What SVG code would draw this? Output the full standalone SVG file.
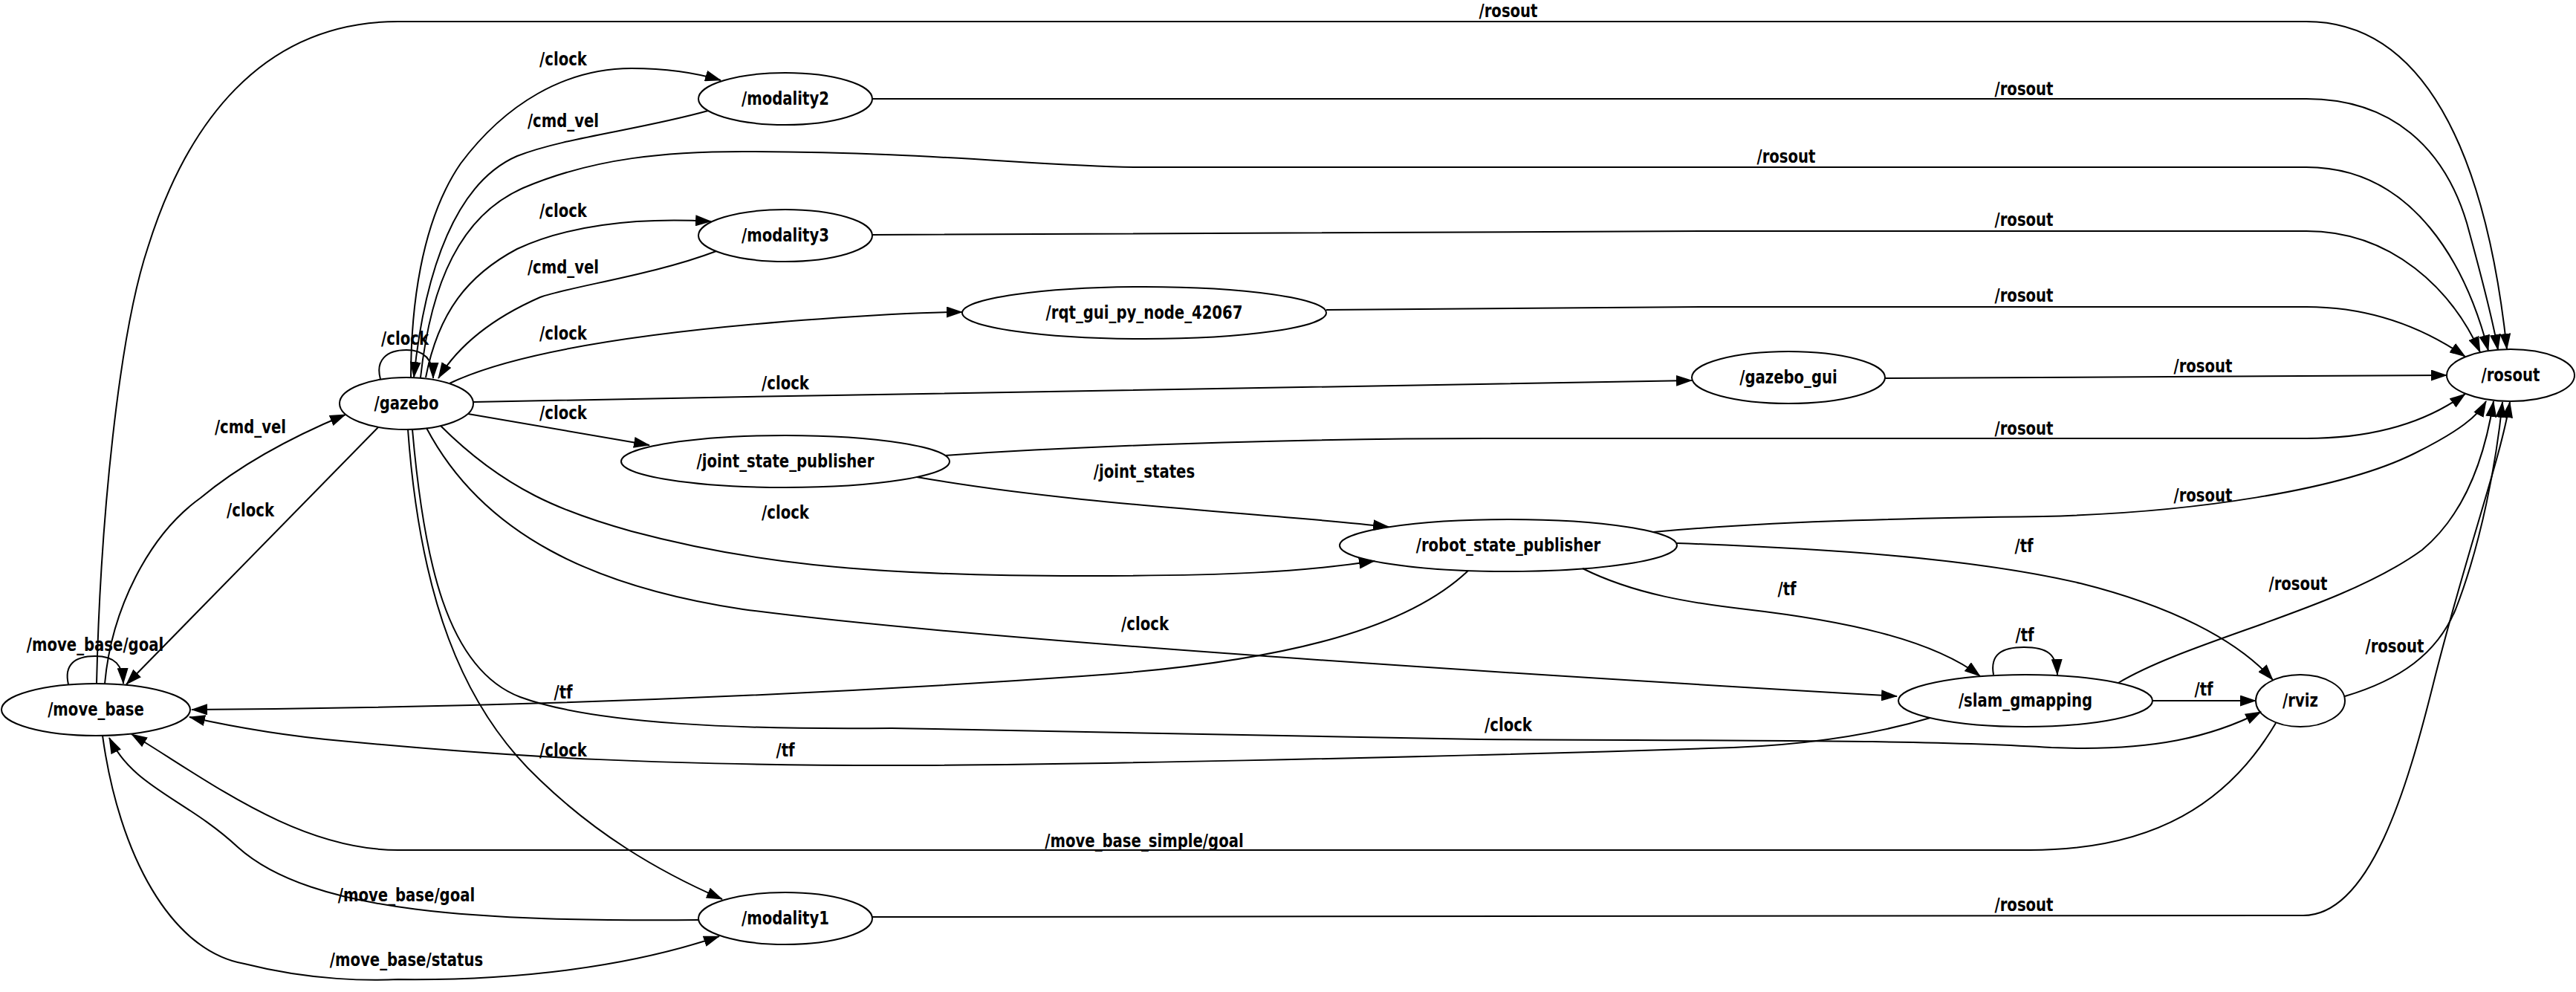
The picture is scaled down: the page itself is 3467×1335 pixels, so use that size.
<svg xmlns="http://www.w3.org/2000/svg" width="3467" height="1335" viewBox="0 0 3467 1335">
<style>
.bg{fill:#ffffff}
.n{fill:none;stroke:#000;stroke-width:2}
.e{fill:none;stroke:#000;stroke-width:2;marker-end:url(#ah)}
.t{font-family:"DejaVu Sans","Liberation Sans",sans-serif;font-weight:bold;font-size:24px;text-anchor:middle;fill:#000;transform:scaleX(0.82);transform-box:fill-box;transform-origin:center}
</style>
<defs>
<marker id="ah" markerUnits="userSpaceOnUse" markerWidth="22" markerHeight="15" refX="21" refY="7.5" orient="auto">
<path d="M0,0 L22,7.5 L0,15 Z" fill="#000"/>
</marker>
</defs>
<rect class="bg" x="0" y="0" width="3467" height="1335"/>
<g id="edges">
<path class="e" d="M130,920 C135,700 160,450 199,333 C250,170 350,29 536,29 L3104,29 C3260,29 3345,200 3374,470"/>
<path class="e" d="M1174,133 L3104,133 C3220,133 3290,200 3320,300 C3342,380 3355,430 3362,471"/>
<path class="e" d="M566,508 C580,380 620,290 704,253 C800,212 900,204 1000,204 C1250,204 1400,224 1533,225 L3104,225 C3250,225 3320,360 3349,472"/>
<path class="e" d="M1174,316 C1600,312 2000,311 2300,311 L3104,311 C3220,311 3300,390 3338,474"/>
<path class="e" d="M1785,417 C2000,415 2200,413 2300,413 L3104,413 C3190,413 3260,440 3318,480"/>
<path class="e" d="M2537,509 L3293,505"/>
<path class="e" d="M1272,613 C1500,597 1800,590 2000,590 L3104,590 C3200,590 3270,565 3318,530"/>
<path class="e" d="M2225,716 C2400,700 2600,697 2750,695 C2950,690 3150,660 3250,610 C3310,580 3335,560 3346,540"/>
<path class="e" d="M2851,919 C2950,860 3150,820 3260,740 C3320,690 3345,610 3356,540"/>
<path class="e" d="M3156,937 C3230,915 3280,880 3305,820 C3340,730 3360,620 3368,541"/>
<path class="e" d="M1174,1234 L3100,1232 C3190,1232 3240,1060 3275,920 C3320,740 3365,620 3378,541"/>
<path class="e" d="M553,508 C553,420 565,300 620,220 C680,140 760,92 850,92 C900,92 940,99 970,108"/>
<path class="e" d="M953,149 C860,175 760,185 696,210 C615,245 572,360 557,508"/>
<path class="e" d="M573,508 C590,420 630,370 696,335 C760,305 850,292 957,298"/>
<path class="e" d="M964,338 C880,370 770,385 727,400 C670,425 620,460 590,509"/>
<path class="e" d="M512,510 C505,485 520,471 547,471 C572,471 583,485 583,509"/>
<path class="e" d="M605,516 C700,470 900,440 1200,423 C1240,421 1270,420 1295,420"/>
<path class="e" d="M637,541 C1200,530 1800,520 2277,512"/>
<path class="e" d="M630,557 L874,599"/>
<path class="e" d="M593,573 C680,660 760,690 850,715 C1000,755 1150,775 1456,775 C1650,775 1750,770 1850,755"/>
<path class="e" d="M574,576 C650,720 800,790 1000,820 C1300,860 2000,905 2553,937"/>
<path class="e" d="M555,578 C570,750 600,900 700,938 C800,975 1000,982 1200,980 C1500,986 1800,993 1992,995 C2300,997 2600,995 2761,1006 C2900,1012 2980,990 3043,958"/>
<path class="e" d="M549,578 C565,800 620,950 727,1050 C800,1120 880,1170 972,1210"/>
<path class="e" d="M509,575 L170,921"/>
<path class="e" d="M141,920 C150,820 200,720 270,670 C330,620 400,585 465,558"/>
<path class="e" d="M92,921 C86,895 100,883 128,883 C155,883 165,895 166,920"/>
<path class="e" d="M1234,642 C1450,680 1700,690 1869,709"/>
<path class="e" d="M1976,768 C1900,840 1750,890 1456,910 C1100,935 700,952 258,955"/>
<path class="e" d="M2130,765 C2200,800 2280,812 2350,820 C2480,835 2600,860 2665,910"/>
<path class="e" d="M2257,731 C2450,738 2650,750 2800,785 C2920,815 3010,860 3059,915"/>
<path class="e" d="M2683,908 C2678,880 2695,871 2724,871 C2755,871 2768,880 2769,908"/>
<path class="e" d="M2897,943 L3036,943"/>
<path class="e" d="M2598,966 C2500,995 2400,1005 2300,1007 C1900,1020 1400,1030 1200,1030 C900,1030 700,1020 459,997 C380,990 300,975 255,965"/>
<path class="e" d="M3063,973 C3000,1080 2900,1144 2732,1144 L536,1144 C400,1144 280,1050 177,988"/>
<path class="e" d="M940,1238 C650,1240 420,1230 320,1140 C250,1075 180,1060 147,993"/>
<path class="e" d="M138,990 C160,1150 230,1280 329,1297 C420,1320 500,1320 536,1318 C700,1320 850,1300 968,1260"/>
<text class="t" x="2030" y="23">/rosout</text>
<text class="t" x="2724" y="128">/rosout</text>
<text class="t" x="2404" y="219">/rosout</text>
<text class="t" x="2724" y="304">/rosout</text>
<text class="t" x="2724" y="406">/rosout</text>
<text class="t" x="2965" y="501">/rosout</text>
<text class="t" x="2724" y="585">/rosout</text>
<text class="t" x="2965" y="675">/rosout</text>
<text class="t" x="3093" y="794">/rosout</text>
<text class="t" x="3223" y="878">/rosout</text>
<text class="t" x="2724" y="1226">/rosout</text>
<text class="t" x="758" y="88">/clock</text>
<text class="t" x="758" y="171">/cmd_vel</text>
<text class="t" x="758" y="292">/clock</text>
<text class="t" x="758" y="368">/cmd_vel</text>
<text class="t" x="758" y="457">/clock</text>
<text class="t" x="545" y="464">/clock</text>
<text class="t" x="1057" y="524">/clock</text>
<text class="t" x="758" y="564">/clock</text>
<text class="t" x="337" y="583">/cmd_vel</text>
<text class="t" x="337" y="695">/clock</text>
<text class="t" x="1540" y="643">/joint_states</text>
<text class="t" x="1057" y="698">/clock</text>
<text class="t" x="2405" y="801">/tf</text>
<text class="t" x="2724" y="743">/tf</text>
<text class="t" x="1541" y="848">/clock</text>
<text class="t" x="2725" y="863">/tf</text>
<text class="t" x="128" y="876">/move_base/goal</text>
<text class="t" x="758" y="940">/tf</text>
<text class="t" x="2966" y="936">/tf</text>
<text class="t" x="2030" y="984">/clock</text>
<text class="t" x="758" y="1018">/clock</text>
<text class="t" x="1057" y="1018">/tf</text>
<text class="t" x="1540" y="1140">/move_base_simple/goal</text>
<text class="t" x="547" y="1213">/move_base/goal</text>
<text class="t" x="547" y="1300">/move_base/status</text>
</g>
<g id="node-modality2"><ellipse class="n" cx="1057" cy="133" rx="117" ry="35"/><text class="t" x="1057" y="141">/modality2</text></g>
<g id="node-modality3"><ellipse class="n" cx="1057" cy="317" rx="117" ry="35"/><text class="t" x="1057" y="325">/modality3</text></g>
<g id="node-rqt_gui_py_node_42067"><ellipse class="n" cx="1540" cy="421" rx="245" ry="35"/><text class="t" x="1540" y="429">/rqt_gui_py_node_42067</text></g>
<g id="node-gazebo_gui"><ellipse class="n" cx="2407" cy="508" rx="130" ry="35"/><text class="t" x="2407" y="516">/gazebo_gui</text></g>
<g id="node-rosout"><ellipse class="n" cx="3379" cy="505" rx="86" ry="35"/><text class="t" x="3379" y="513">/rosout</text></g>
<g id="node-gazebo"><ellipse class="n" cx="547" cy="543" rx="90" ry="35"/><text class="t" x="547" y="551">/gazebo</text></g>
<g id="node-joint_state_publisher"><ellipse class="n" cx="1057" cy="621" rx="221" ry="35"/><text class="t" x="1057" y="629">/joint_state_publisher</text></g>
<g id="node-robot_state_publisher"><ellipse class="n" cx="2030" cy="734" rx="227" ry="35"/><text class="t" x="2030" y="742">/robot_state_publisher</text></g>
<g id="node-move_base"><ellipse class="n" cx="129" cy="955" rx="127" ry="35"/><text class="t" x="129" y="963">/move_base</text></g>
<g id="node-slam_gmapping"><ellipse class="n" cx="2726" cy="943" rx="171" ry="35"/><text class="t" x="2726" y="951">/slam_gmapping</text></g>
<g id="node-rviz"><ellipse class="n" cx="3096" cy="943" rx="60" ry="35"/><text class="t" x="3096" y="951">/rviz</text></g>
<g id="node-modality1"><ellipse class="n" cx="1057" cy="1236" rx="117" ry="35"/><text class="t" x="1057" y="1244">/modality1</text></g>
</svg>
